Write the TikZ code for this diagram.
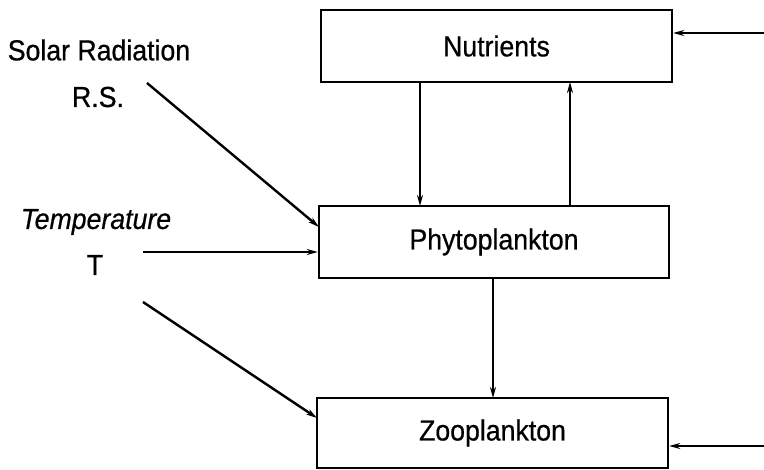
\documentclass[tikz,border=0pt]{standalone}
\usepackage{fontspec}
\setmainfont{Liberation Sans}[FakeStretch=0.92,FakeBold=0.6]
\usetikzlibrary{arrows.meta}
\begin{document}
\begin{tikzpicture}[x=1pt,y=-1pt,
  box/.style={draw,line width=2.4pt,minimum height=72pt,inner sep=0pt,font=\fontsize{29}{33}\selectfont},
  lbl/.style={font=\fontsize{29}{33}\selectfont,inner sep=0pt},
  flow/.style={line width=2.4pt,-{Stealth[length=11pt,width=6pt]}}]
\useasboundingbox (0,0) rectangle (764,470);
% compartments
\node[box,minimum width=351pt] (nut) at (496.5,46) {Nutrients};
\node[box,minimum width=350pt] (phy) at (494,242) {Phytoplankton};
\node[box,minimum width=351pt,minimum height=70pt] (zoo) at (492.5,433) {Zooplankton};
% driving variables
\node[lbl] (sr) at (99,50) {Solar Radiation};
\node[lbl] (rs) at (98,97) {R.S.};
\node[lbl] (tp) at (96,222) {\itshape Temperature};
\node[lbl] (tt) at (95,265) {T};
\coordinate (rsA) at (147,83);
\coordinate (tA) at (143,252);
\coordinate (tB) at (143,302);
\coordinate (inN) at (764,33);
\coordinate (inZ) at (764,446);
% connectors
\draw[flow] (rsA) -- (319,227);
\draw[flow] (tA) -- (tA -| phy.west);
\draw[flow] (tB) -- (317,418);
\draw[flow] (inN) -- (inN -| nut.east);
\draw[flow] (inZ) -- (inZ -| zoo.east);
\draw[flow] (420,82) -- (420,206);
\draw[flow] (570,206) -- (570,82);
\draw[flow] (493,278) -- (493,398);
\end{tikzpicture}
\end{document}
